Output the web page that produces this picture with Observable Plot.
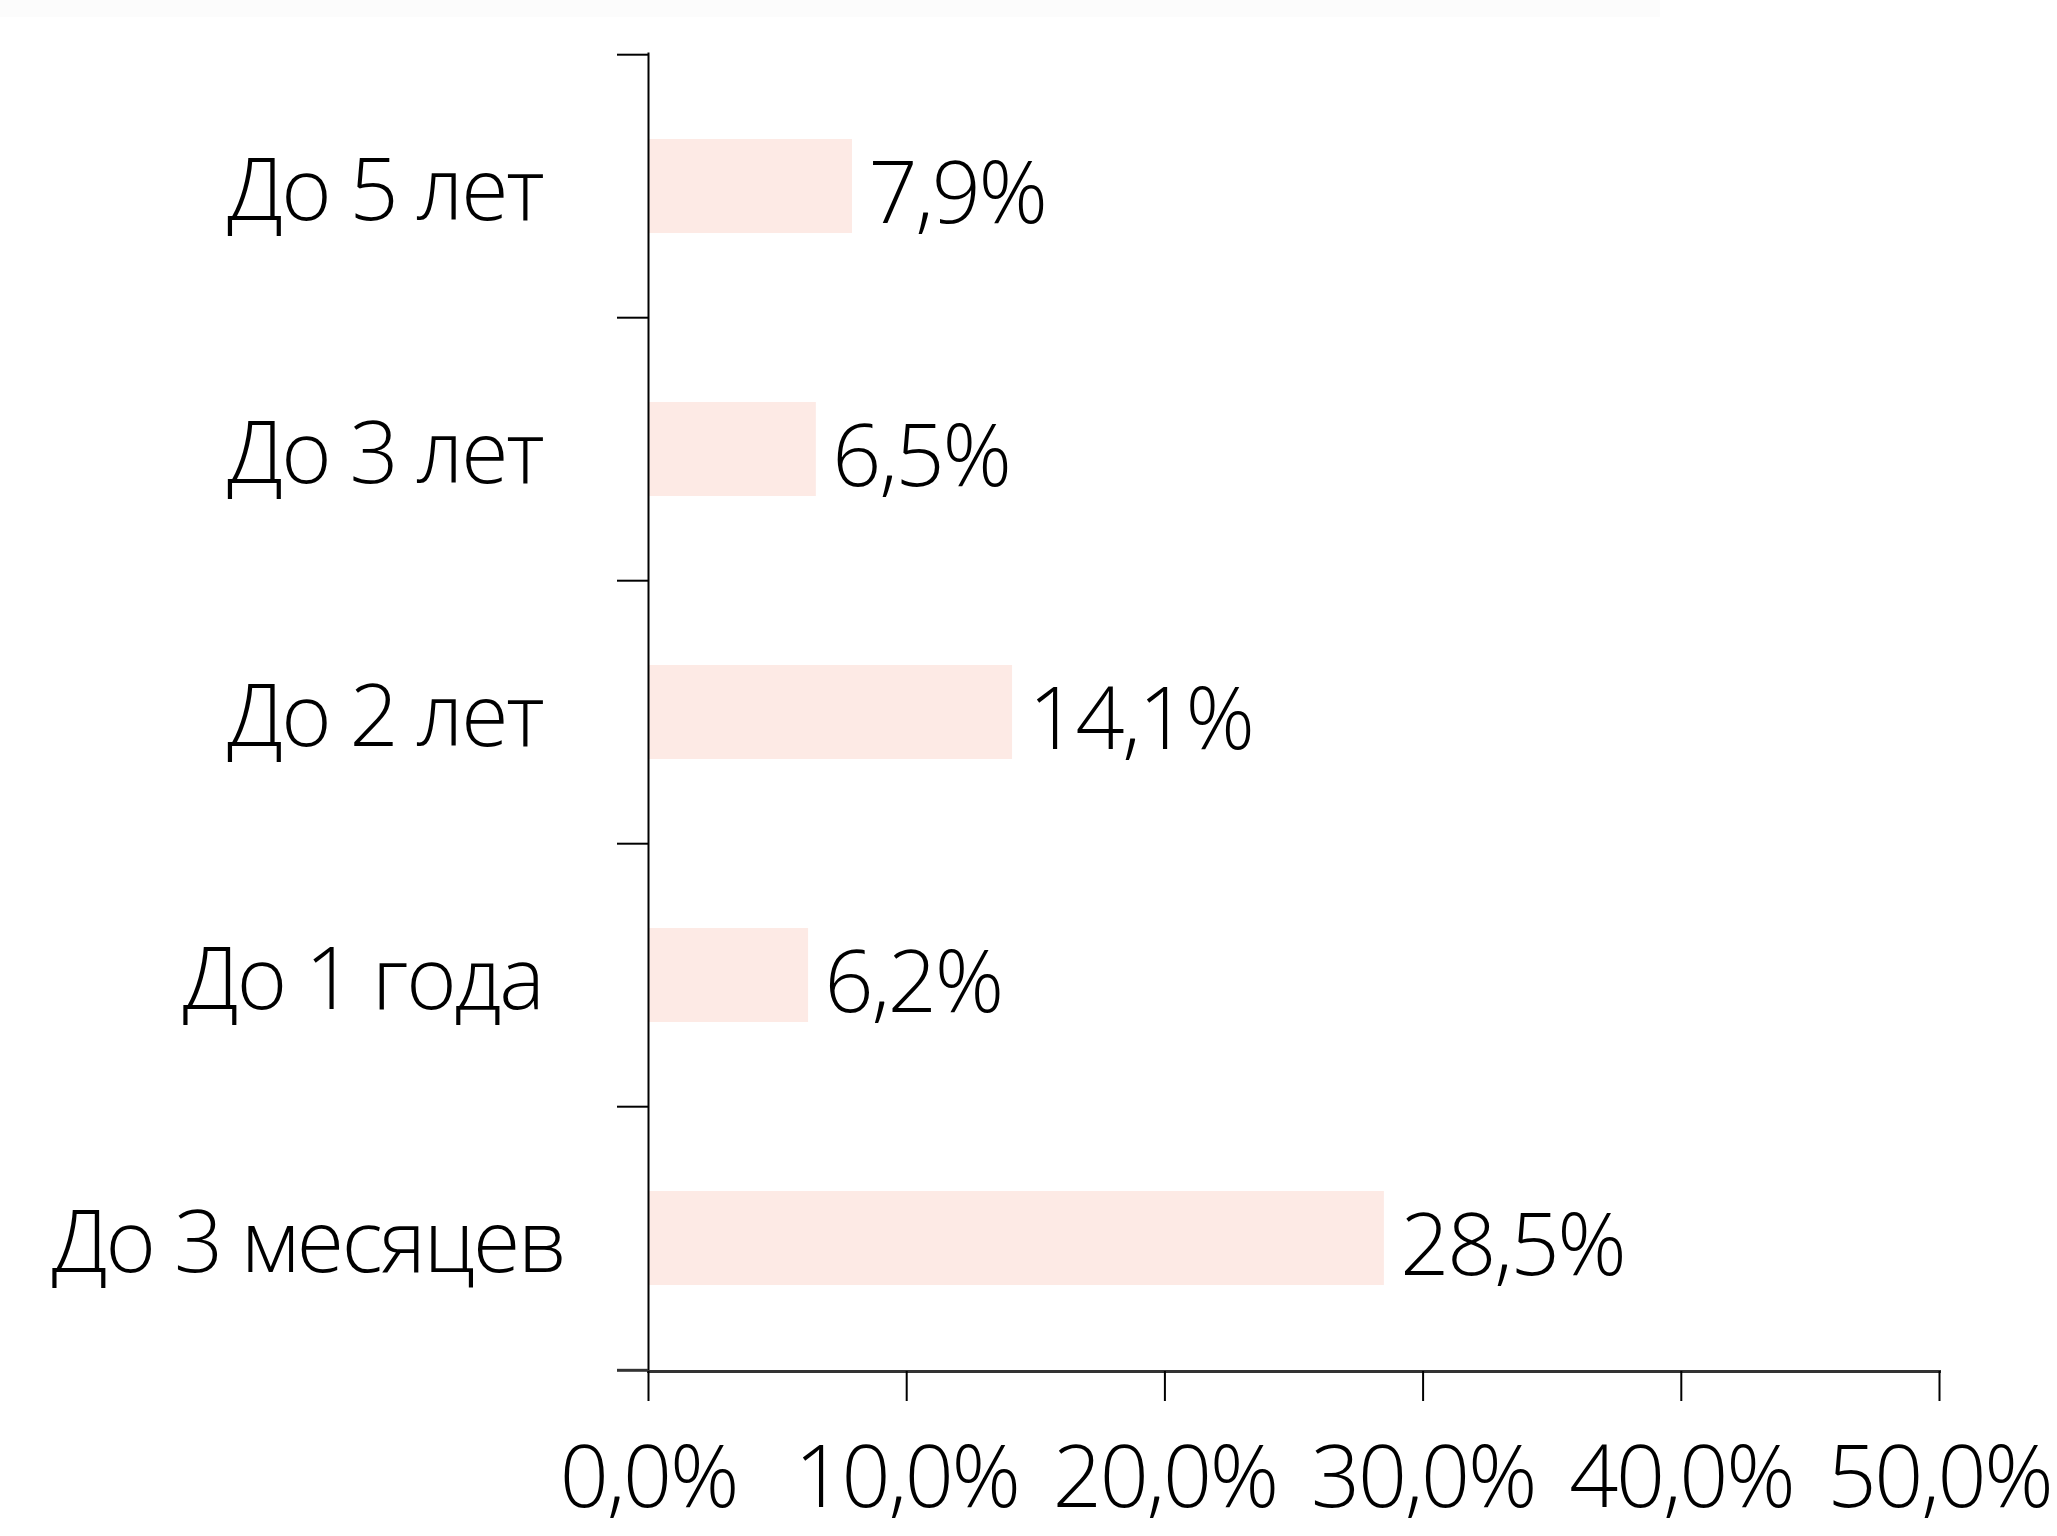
<!DOCTYPE html>
<html>
<head>
<meta charset="utf-8">
<script src="https://cdn.jsdelivr.net/npm/d3@7"></script>
<script src="https://cdn.jsdelivr.net/npm/@observablehq/plot@0.6"></script>
<style>
  html, body { margin: 0; padding: 0; background: #fff; }
  #wrap { position: relative; width: 2057px; height: 1536px; }
  #band { position: absolute; left: 0; top: 0; width: 1660px; height: 17px; background: #fcfcfc; }
  #chart svg text { letter-spacing: -2.2px; }
</style>
</head>
<body>
<div id="wrap"><div id="band"></div><div id="chart"></div></div>
<script>
const categories = ["До 5 лет", "До 3 лет", "До 2 лет", "До 1 года", "До 3 месяцев"];
const values = [7.9, 6.5, 14.1, 6.2, 28.5];
const xTicks = [0, 10, 20, 30, 40, 50];

const data = categories.map((c, i) => ({category: c, value: values[i]}));
const fmt = v => v.toFixed(1).replace(".", ",") + "%";

const W = 2057, H = 1536;
const mTop = 53, mBottom = 165, mLeft = 648, mRight = 118;
const step = (H - mTop - mBottom) / categories.length;
const FS = 86;
const font = "'Open Sans', 'Noto Sans', sans-serif";
const last = categories[categories.length - 1];

const chart = Plot.plot({
  width: W,
  height: H,
  marginTop: mTop,
  marginBottom: mBottom,
  marginLeft: mLeft,
  marginRight: mRight,
  style: {fontFamily: font, fontSize: FS + "px", fontWeight: 300, color: "#000", background: "transparent"},
  x: {domain: [0, 50], ticks: xTicks},
  y: {domain: categories, paddingInner: 0.643, paddingOuter: 0.3215},
  marks: [
    Plot.barX(data, {x: "value", y: "category", fill: "#fdeae5"}),
    Plot.frame({anchor: "left", stroke: "#000", strokeWidth: 2}),
    Plot.frame({anchor: "bottom", stroke: "#333", strokeWidth: 3}),
    Plot.axisY({tickSize: 31, text: null, label: null, dy: -step / 2, stroke: "#000", strokeWidth: 2}),
    Plot.axisY({ticks: [last], tickSize: 31, text: null, label: null, dy: step / 2, stroke: "#333", strokeWidth: 3}),
    Plot.axisY({ticks: categories.slice(0, -1), tickSize: 0, tickPadding: 106, dy: 6, fontSize: FS, label: null}),
    Plot.axisY({ticks: [last], tickSize: 0, tickPadding: 84, dy: 6, fontSize: FS, label: null}),
    Plot.axisX({ticks: xTicks, tickSize: 30, tickPadding: 44, tickFormat: fmt, fontSize: FS, label: null, stroke: "#000", strokeWidth: 2}),
    Plot.text(data, {x: "value", y: "category", text: d => fmt(d.value), textAnchor: "start", dx: 16, dy: 9, fontSize: FS, fill: "#000"})
  ]
});
document.getElementById("chart").appendChild(chart);
</script>
</body>
</html>
